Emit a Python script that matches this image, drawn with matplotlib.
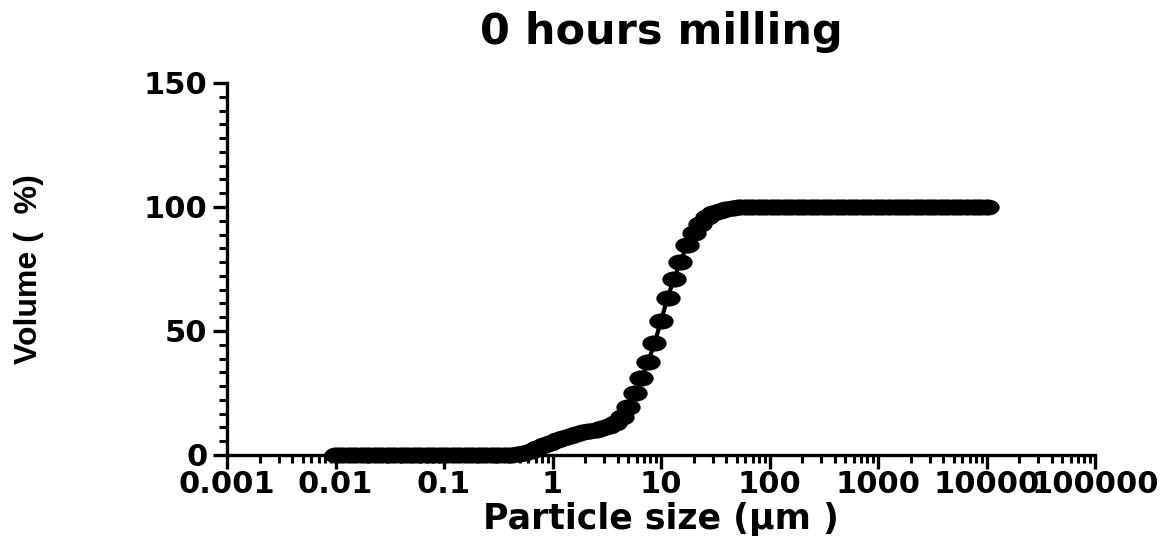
import matplotlib
matplotlib.use("Agg")
import matplotlib.pyplot as plt
from matplotlib.path import Path
from matplotlib.transforms import Affine2D
from matplotlib.ticker import LogLocator, FixedLocator, AutoMinorLocator, NullFormatter
from matplotlib import font_manager

# particle size (um), Mastersizer style classes
SIZE = [0.01, 0.0115, 0.0132, 0.0151, 0.0174, 0.02, 0.0229, 0.0263, 0.0302, 0.0347,
        0.0398, 0.0457, 0.0525, 0.0603, 0.0692, 0.0794, 0.0912, 0.105, 0.120, 0.138,
        0.158, 0.182, 0.209, 0.240, 0.275, 0.316, 0.363, 0.417, 0.479, 0.550,
        0.631, 0.724, 0.832, 0.955, 1.10, 1.26, 1.45, 1.66, 1.91, 2.19,
        2.51, 2.88, 3.31, 3.80, 4.37, 5.01, 5.75, 6.61, 7.59, 8.71,
        10.0, 11.5, 13.2, 15.1, 17.4, 20.0, 22.9, 26.3, 30.2, 34.7,
        39.8, 45.7, 52.5, 60.3, 69.2, 79.4, 91.2, 105, 120, 138,
        158, 182, 209, 240, 275, 316, 363, 417, 479, 550,
        631, 724, 832, 955, 1100, 1260, 1450, 1660, 1910, 2190,
        2510, 2880, 3310, 3800, 4370, 5010, 5750, 6610, 7590, 8710,
        10000]

# cumulative volume (%)
VOLUME = [0, 0, 0, 0, 0, 0, 0, 0, 0, 0,
          0, 0, 0, 0, 0, 0, 0, 0, 0, 0,
          0, 0, 0, 0, 0, 0, 0, 0.1, 0.4, 1.0,
          1.8, 2.8, 3.9, 5.0, 6.0, 7.0, 7.8, 8.5, 9.1, 9.6,
          10.1, 10.7, 11.8, 13.0, 15.5, 19.5, 25.0, 31.0, 37.5, 45.0,
          54.0, 63.5, 71.0, 78.0, 84.5, 89.5, 93.3, 95.8, 97.4, 98.4,
          99.0, 99.5, 99.8, 99.9, 100, 100, 100, 100, 100, 100,
          100, 100, 100, 100, 100, 100, 100, 100, 100, 100,
          100, 100, 100, 100, 100, 100, 100, 100, 100, 100,
          100, 100, 100, 100, 100, 100, 100, 100, 100, 100,
          100]

X_TICKS = [0.001, 0.01, 0.1, 1, 10, 100, 1000, 10000, 100000]
X_LABELS = ["0.001", "0.01", "0.1", "1", "10", "100", "1000", "10000", "100000"]
Y_TICKS = [0, 50, 100, 150]

TITLE = "0 hours milling"
XLABEL = "Particle size (\u03bcm )"
YLABEL = "Volume (  %)"

names = {f.name for f in font_manager.fontManager.ttflist}
narrow = "Liberation Sans Narrow" if "Liberation Sans Narrow" in names else "Liberation Sans"

plt.rcParams["font.family"] = ["DejaVu Sans"]
plt.rcParams["font.weight"] = "bold"

fig = plt.figure(figsize=(11.76, 5.49), dpi=100)
ax = fig.add_axes([227 / 1176, 1 - 455 / 549, (1095 - 227) / 1176, (455 - 83) / 549])

# oval marker, wider than tall
oval = Path.unit_circle().transformed(Affine2D().scale(1.55, 1.0))
ax.plot(SIZE, VOLUME, color="black", linewidth=3, marker=oval,
        markersize=16.5, markerfacecolor="black", markeredgecolor="black",
        clip_on=False, zorder=3)

ax.set_xscale("log")
ax.set_xlim(0.001, 100000)
ax.set_ylim(0, 150)

ax.xaxis.set_major_locator(FixedLocator(X_TICKS))
ax.set_xticklabels(X_LABELS)
ax.xaxis.set_minor_locator(LogLocator(base=10, subs=range(2, 10), numticks=100))
ax.xaxis.set_minor_formatter(NullFormatter())
ax.set_yticks(Y_TICKS)
ax.yaxis.set_minor_locator(AutoMinorLocator(9))

for s in ["top", "right"]:
    ax.spines[s].set_visible(False)
for s in ["left", "bottom"]:
    ax.spines[s].set_linewidth(2.4)

ax.tick_params(which="major", direction="out", length=10, width=2.4,
               labelsize=22, pad=4)
ax.tick_params(axis="x", which="major", pad=1)
ax.tick_params(which="minor", direction="out", length=6, width=2.2)
for lab in ax.get_xticklabels() + ax.get_yticklabels():
    lab.set_fontweight("bold")

ax.set_title(TITLE, fontsize=31, fontweight="bold", pad=28)
ax.set_xlabel(XLABEL, fontsize=25, fontweight="bold", labelpad=2)
ax.set_ylabel(YLABEL, fontsize=23, family=[narrow, "DejaVu Sans"],
              fontweight="bold", labelpad=72)

fig.savefig("out.png", dpi=100)
